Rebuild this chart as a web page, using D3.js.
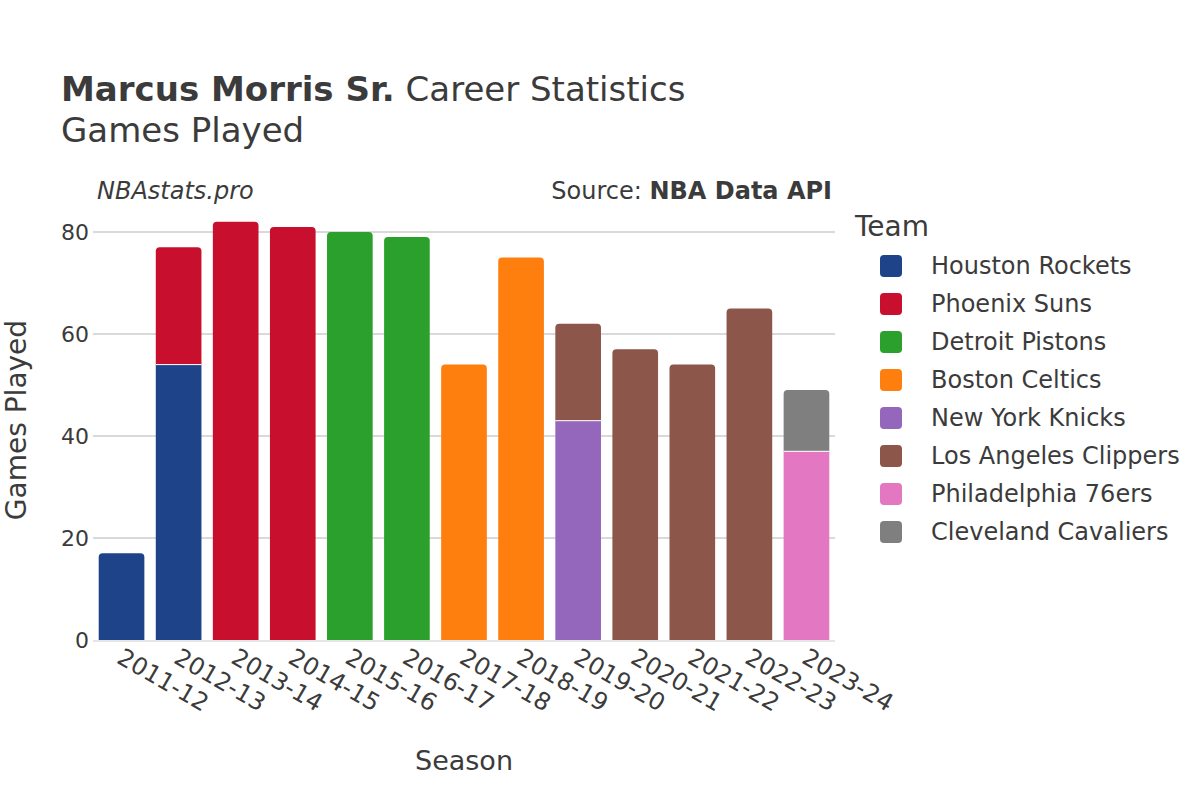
<!DOCTYPE html>
<html><head><meta charset="utf-8">
<script src="https://cdn.jsdelivr.net/npm/d3@7"></script>
<style>body{margin:0;background:#fff}text{font-family:"DejaVu Sans",sans-serif;fill:#3b3b3b}</style>
</head><body><svg id="c" width="1200" height="800"></svg>
<script>
const seasons = ["2011-12","2012-13","2013-14","2014-15","2015-16","2016-17","2017-18","2018-19","2019-20","2020-21","2021-22","2022-23","2023-24"];
const teams = ["Houston Rockets","Phoenix Suns","Detroit Pistons","Boston Celtics","New York Knicks","Los Angeles Clippers","Philadelphia 76ers","Cleveland Cavaliers"];
const teamColors = ["#1f4388","#c8102e","#2ca02c","#ff7f0e","#9467bd","#8c564b","#e377c2","#7f7f7f"];
// games per season for each team (stack order follows teams)
const houston  = [17,54,0,0,0,0,0,0,0,0,0,0,0];
const phoenix  = [0,23,82,81,0,0,0,0,0,0,0,0,0];
const detroit  = [0,0,0,0,80,79,0,0,0,0,0,0,0];
const boston   = [0,0,0,0,0,0,54,75,0,0,0,0,0];
const newyork  = [0,0,0,0,0,0,0,0,43,0,0,0,0];
const clippers = [0,0,0,0,0,0,0,0,19,57,54,65,0];
const sixers   = [0,0,0,0,0,0,0,0,0,0,0,0,37];
const cavs     = [0,0,0,0,0,0,0,0,0,0,0,0,12];
const series = [houston,phoenix,detroit,boston,newyork,clippers,sixers,cavs];
const yTicks = [0,20,40,60,80];

const svg = d3.select("#c");
const L=93,R=835,B=640;
const x = d3.scaleBand().domain(seasons).range([L,R]).paddingInner(0.2).paddingOuter(0.1);
const y = d3.scaleLinear().domain([0,84]).range([B,B-84*5.1]);

// grid
svg.append("g").selectAll("line").data(yTicks.filter(d=>d>0)).join("line")
  .attr("x1",L).attr("x2",R).attr("y1",d=>y(d)).attr("y2",d=>y(d))
  .attr("stroke","#b4b4b4").attr("stroke-width",1);

// bars
function topPath(x0,y0,w,h,r){
  r=Math.min(r,h,w/2);
  return `M${x0},${y0+h}V${y0+r}Q${x0},${y0} ${x0+r},${y0}H${x0+w-r}Q${x0+w},${y0} ${x0+w},${y0+r}V${y0+h}Z`;
}
const bw=x.bandwidth();
seasons.forEach((s,i)=>{
  let acc=0;
  const segs=[];
  series.forEach((arr,k)=>{ if(arr[i]>0){segs.push({k,v0:acc,v1:acc+arr[i]}); acc+=arr[i];} });
  segs.forEach((sg,j)=>{
    const isTop=j===segs.length-1;
    const y0=y(sg.v1), h=y(sg.v0)-y(sg.v1);
    svg.append("path")
      .attr("d", isTop? topPath(x(s),y0,bw,h,4) : `M${x(s)},${y0}h${bw}v${h}h${-bw}Z`)
      .attr("fill",teamColors[sg.k]);
    if(j>0) svg.append("line").attr("x1",x(s)).attr("x2",x(s)+bw).attr("y1",y(sg.v0)).attr("y2",y(sg.v0))
      .attr("stroke","#fff").attr("stroke-width",1);
  });
});
// zero line
svg.append("line").attr("x1",L).attr("x2",R).attr("y1",B+1).attr("y2",B+1).attr("stroke","#e6e6e6").attr("stroke-width",2);

// y axis labels
const ya = svg.append("g").attr("transform",`translate(${L-4},0)`)
  .call(d3.axisLeft(y).tickValues(yTicks).tickSize(0).tickPadding(0));
ya.select(".domain").remove();
ya.selectAll("text").attr("font-size",22).attr("fill","#3b3b3b").attr("dy","0.35em").attr("font-family","DejaVu Sans");

// x axis labels
const xa = svg.append("g").attr("transform",`translate(0,${B})`)
  .call(d3.axisBottom(x).tickSize(0).tickPadding(0));
xa.select(".domain").remove();
xa.selectAll("text").attr("font-size",24).attr("fill","#3b3b3b").attr("font-family","DejaVu Sans")
  .attr("text-anchor","start").attr("y",0).attr("dy",0)
  .attr("transform","translate(-6,22) rotate(30)");

// titles
const t=svg.append("text").attr("x",61).attr("y",101).attr("font-size",34);
t.append("tspan").attr("font-weight","bold").text("Marcus Morris Sr.");
t.append("tspan").text(" Career Statistics");
svg.append("text").attr("x",61).attr("y",142).attr("font-size",34).text("Games Played");
svg.append("text").attr("x",97).attr("y",199).attr("font-size",24).attr("font-style","italic").text("NBAstats.pro");
const src=svg.append("text").attr("x",832).attr("y",199).attr("font-size",24).attr("text-anchor","end");
src.append("tspan").text("Source: ");
src.append("tspan").attr("font-weight","bold").text("NBA Data API");
svg.append("text").attr("x",464).attr("y",770).attr("font-size",27).attr("text-anchor","middle").text("Season");
svg.append("text").attr("transform","translate(26,420) rotate(-90)").attr("font-size",28).attr("text-anchor","middle").text("Games Played");

// legend
svg.append("text").attr("x",855).attr("y",236).attr("font-size",28).text("Team");
const lg=svg.append("g").selectAll("g").data(teams).join("g").attr("transform",(d,i)=>`translate(880,${266+i*38})`);
lg.append("rect").attr("x",0).attr("y",-11).attr("width",22).attr("height",22).attr("rx",4).attr("fill",(d,i)=>teamColors[i]);
lg.append("text").attr("x",51).attr("y",0).attr("dy","0.35em").attr("font-size",24).text(d=>d);
</script></body></html>
